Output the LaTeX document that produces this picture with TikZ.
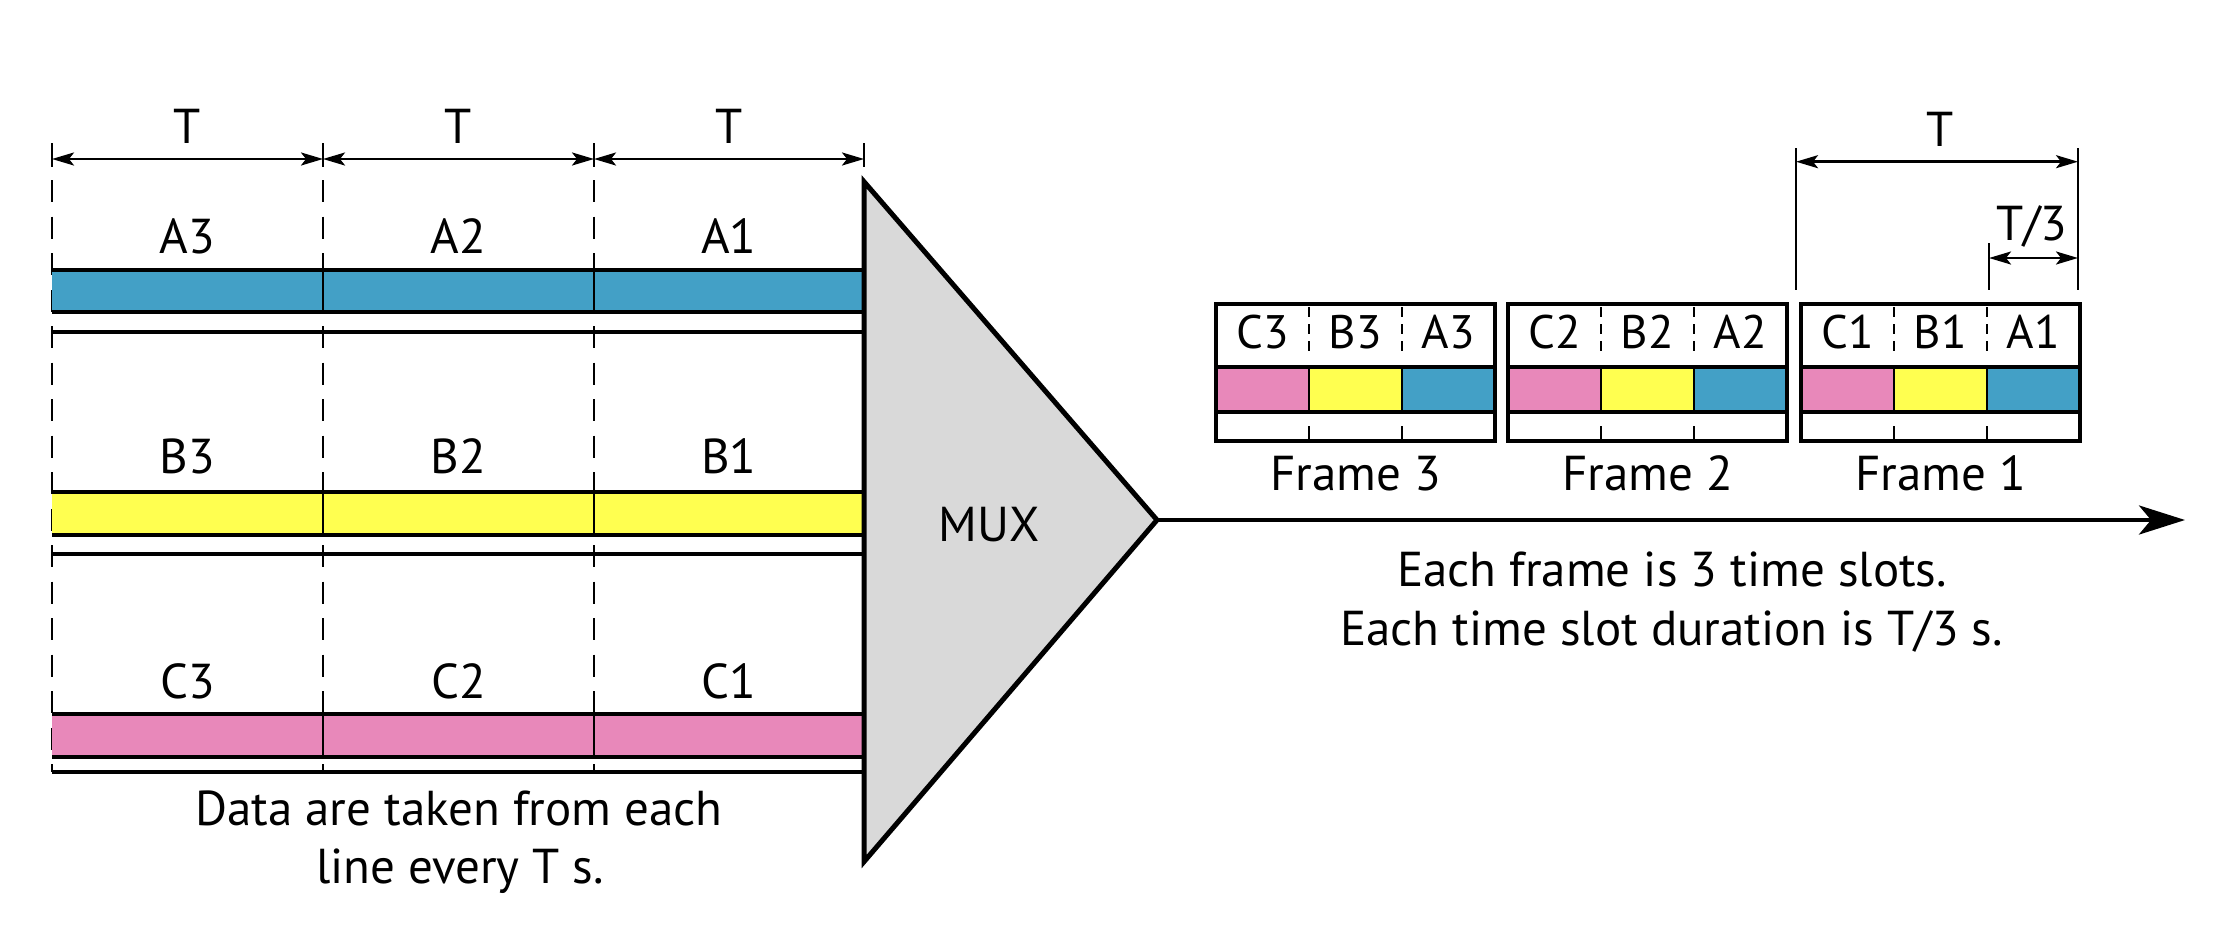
\documentclass[tikz,border=0pt]{standalone}
\usepackage{fontspec}
\setmainfont{PT Sans}
\usetikzlibrary{arrows.meta}
\definecolor{slotblue}{RGB}{67,160,198}
\definecolor{slotyellow}{RGB}{255,255,80}
\definecolor{slotpink}{RGB}{232,136,186}
\definecolor{muxgray}{RGB}{217,217,217}
\begin{document}
\begin{tikzpicture}[x=1pt,y=-1pt,
  lbl/.style={inner sep=0pt, anchor=base, font=\fontsize{49}{58}\selectfont},
  cell/.style={inner sep=0pt, anchor=base, font=\fontsize{47}{56}\selectfont},
  dimline/.style={line width=2.5pt,
    {Stealth[length=22pt,width=13pt,inset=5pt]}-{Stealth[length=22pt,width=13pt,inset=5pt]}},
  tickline/.style={line width=2.5pt},
  guide/.style={line width=2.5pt, dash pattern=on 22pt off 14.5pt},
  celldash/.style={line width=2.5pt, dash pattern=on 10pt off 7pt},
  barline/.style={line width=3.5pt},
  divline/.style={line width=2.5pt},
  rule/.style={line width=4.5pt},
  framebox/.style={draw, line width=3.5pt},
  outarrow/.style={line width=4.5pt, -{Stealth[length=46pt,width=29pt,inset=12pt]}},
]
\useasboundingbox (0,0) rectangle (2226,932);

% ---------------- input lines ----------------
% dashed period guides
\foreach \x in {52,323,594} \draw[guide] (\x,180) -- (\x,772);

% period ticks and dimension arrows
\foreach \x [count=\i] in {52,323,594,864} {
  \coordinate (p\i) at (\x,159);
  \draw[tickline] (\x,143) -- (\x,167);
}
\draw[dimline] (p1) -- (p2);
\draw[dimline] (p2) -- (p3);
\draw[dimline] (p3) -- (p4);
\node[lbl] (T1) at (187.5,143) {T};
\node[lbl] (T2) at (458.5,143) {T};
\node[lbl] (T3) at (729,143) {T};

% three input lines A, B, C
\foreach \c/\t/\b/\r/\lb/\L in {slotblue/270/312/332/253/A,
                                 slotyellow/492/535/554/473/B,
                                 slotpink/714/757/772/698/C} {
  \fill[\c] (52,\t) rectangle (864,\b);
  \draw[barline] (52,\t) -- (864,\t);
  \draw[barline] (52,\b) -- (864,\b);
  \draw[divline] (323,\t) -- (323,\b);
  \draw[divline] (594,\t) -- (594,\b);
  \draw[rule] (52,\r) -- (864,\r);
  \node[lbl] (\L3) at (187.5,\lb) {\L3};
  \node[lbl] (\L2) at (458.5,\lb) {\L2};
  \node[lbl] (\L1) at (729,\lb) {\L1};
}

\node[lbl] (note1) at (459,825) {Data are taken from each};
\node[lbl] (note2) at (460,883) {line every T s.};

% ---------------- multiplexer ----------------
\coordinate (muxtop) at (864,181.7);
\coordinate (muxtip) at (1157,520);
\coordinate (muxbot) at (864,861.7);
\draw[fill=muxgray, line width=5pt, line join=miter] (muxtop) -- (muxtip) -- (muxbot) -- cycle;
\node[lbl] (mux) at (989,541.7) {MUX};

% output link
\coordinate (outend) at (2185,520);
\draw[outarrow] (muxtip) -- (outend);

\node[lbl] (note3) at (1672,586.7) {Each frame is 3 time slots.};
\node[lbl] (note4) at (1671.5,645) {Each time slot duration is T/3 s.};

% ---------------- frames ----------------
\foreach \fx/\n in {1216/3, 1508/2, 1801/1} {
  \fill[slotpink]   (\fx,367) rectangle ++(93,45);
  \fill[slotyellow] (\fx+93,367) rectangle ++(93,45);
  \fill[slotblue]   (\fx+186,367) rectangle ++(93,45);
  \draw[line width=4pt] (\fx,367) rectangle ++(279,45);
  \draw[divline] (\fx+93,367) -- (\fx+93,412);
  \draw[divline] (\fx+186,367) -- (\fx+186,412);
  \draw[celldash] (\fx+93,307) -- (\fx+93,356);
  \draw[celldash] (\fx+186,307) -- (\fx+186,356);
  \draw[divline] (\fx+93,426) -- (\fx+93,441);
  \draw[divline] (\fx+186,426) -- (\fx+186,441);
  \draw[framebox] (\fx,304) rectangle (\fx+279,441);
  \node[cell] (fC\n) at (\fx+46.5,348) {C\n};
  \node[cell] (fB\n) at (\fx+139.5,348) {B\n};
  \node[cell] (fA\n) at (\fx+232.5,348) {A\n};
  \node[lbl] (frame\n) at (\fx+139.5,490) {Frame \n};
}

% frame and slot duration
\draw[tickline] (1796,148) -- (1796,290);
\draw[tickline] (2078,148) -- (2078,290);
\draw[tickline] (1989,243) -- (1989,290);
\coordinate (fT1) at (1796,161.7);
\coordinate (fT2) at (2078,161.7);
\coordinate (sT1) at (1989,258);
\coordinate (sT2) at (2078,258);
\draw[dimline] (fT1) -- (fT2);
\draw[dimline] (sT1) -- (sT2);
\node[lbl] (Tframe) at (1940,146.7) {T};
\node[lbl] (Tslot) at (2032,240) {T/3};
\end{tikzpicture}
\end{document}
